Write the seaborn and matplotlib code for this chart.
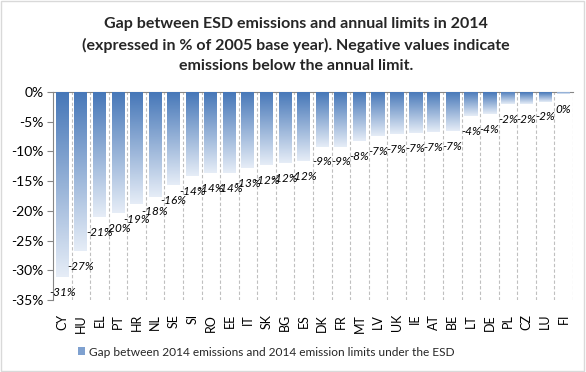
import numpy as np
import matplotlib
matplotlib.use('Agg')
import matplotlib.pyplot as plt
from matplotlib.colors import LinearSegmentedColormap
from matplotlib.patches import Patch, Rectangle
import seaborn as sns

# Data (gap in % of 2005 base year)
countries = ['CY', 'HU', 'EL', 'PT', 'HR', 'NL', 'SE', 'SI', 'RO', 'EE',
             'IT', 'SK', 'BG', 'ES', 'DK', 'FR', 'MT', 'LV', 'UK', 'IE',
             'AT', 'BE', 'LT', 'DE', 'PL', 'CZ', 'LU', 'FI']
gaps = [-31.1, -26.8, -21.0, -20.4, -18.8, -17.6, -15.7, -14.1, -13.6, -13.6,
        -12.8, -12.3, -12.0, -11.6, -9.2, -9.2, -8.2, -7.4, -7.1, -6.9,
        -6.8, -6.6, -4.1, -3.7, -2.1, -2.0, -1.6, -0.4]
ytick_values = [0, -5, -10, -15, -20, -25, -30, -35]

title = ('Gap between ESD emissions and annual limits in 2014\n'
         '(expressed in % of 2005 base year). Negative values indicate\n'
         'emissions below the annual limit.')
legend_label = 'Gap between 2014 emissions and 2014 emission limits under the ESD'

sns.set_theme(style='white')
plt.rcParams['font.family'] = ['Lato', 'DejaVu Sans']

fig = plt.figure(figsize=(5.86, 3.72), dpi=100)
ax = fig.add_axes([53 / 586, 1 - 300 / 372, 520 / 586, 208 / 372])

sns.barplot(x=countries, y=gaps, ax=ax, color='#4a7ebb', width=0.7,
            saturation=1)

# per-bar vertical gradient like the original
cmap = LinearSegmentedColormap.from_list('bluefade', ['#4677b8', '#e6edf7'])
grad = np.linspace(0, 1, 256).reshape(-1, 1)
for p in ax.patches:
    x0 = p.get_x()
    x1 = x0 + p.get_width()
    bottom = min(p.get_y(), p.get_y() + p.get_height())
    im = ax.imshow(grad, extent=(x0, x1, bottom, 0), aspect='auto',
                   cmap=cmap, origin='upper', zorder=3)
    im.set_clip_path(p)
    p.set_facecolor('none')
    p.set_edgecolor('none')

# data labels (round half away from zero, like Excel)
for i, v in enumerate(gaps):
    r = int(np.sign(v) * np.floor(abs(v) + 0.5))
    ax.annotate(f'{r}%', (i, v), xytext=(0, -11), textcoords='offset points',
                ha='center', va='center', fontsize=8.5, style='italic',
                color='#000000', zorder=5)

# dashed vertical gridlines between categories
for i in range(len(countries)):
    ax.axvline(i + 0.5, color='#bfbfbf', lw=0.8, ls=(0, (3, 2)), zorder=1)

ax.set_xlim(-0.5, len(countries) - 0.5)
ax.set_ylim(-35, 0)
ax.set_yticks(ytick_values)
ax.set_yticklabels([f'{t}%' for t in ytick_values], fontsize=10)
ax.tick_params(axis='y', left=True, length=4, width=0.8, color='#868686',
               pad=3, labelcolor='#000000')
ax.tick_params(axis='x', bottom=False, pad=4, labelsize=9, labelrotation=90)
for lab in ax.get_xticklabels():
    lab.set_color('#000000')
ax.set_xlabel('')
ax.set_ylabel('')

for side in ['right', 'bottom']:
    ax.spines[side].set_visible(False)
for side in ['left', 'top']:
    ax.spines[side].set_color('#868686')
    ax.spines[side].set_linewidth(0.8)

fig.text(296 / 586, 1 - 45 / 372, title, ha='center', va='center',
         fontsize=11.5, fontweight='bold', linespacing=1.55)

handle = Patch(facecolor='#7fa1d0', edgecolor='none')
fig.legend([handle], [legend_label], loc='center',
           bbox_to_anchor=(266 / 586, 1 - 352 / 372), frameon=False,
           fontsize=8.6, handlelength=0.6, handleheight=0.6, handletextpad=0.3)

fig.patches.append(Rectangle((0.002, 0.003), 0.995, 0.994, transform=fig.transFigure,
                             fill=False, edgecolor='#d9d9d9', lw=1))

fig.savefig('out.png', dpi=100)
